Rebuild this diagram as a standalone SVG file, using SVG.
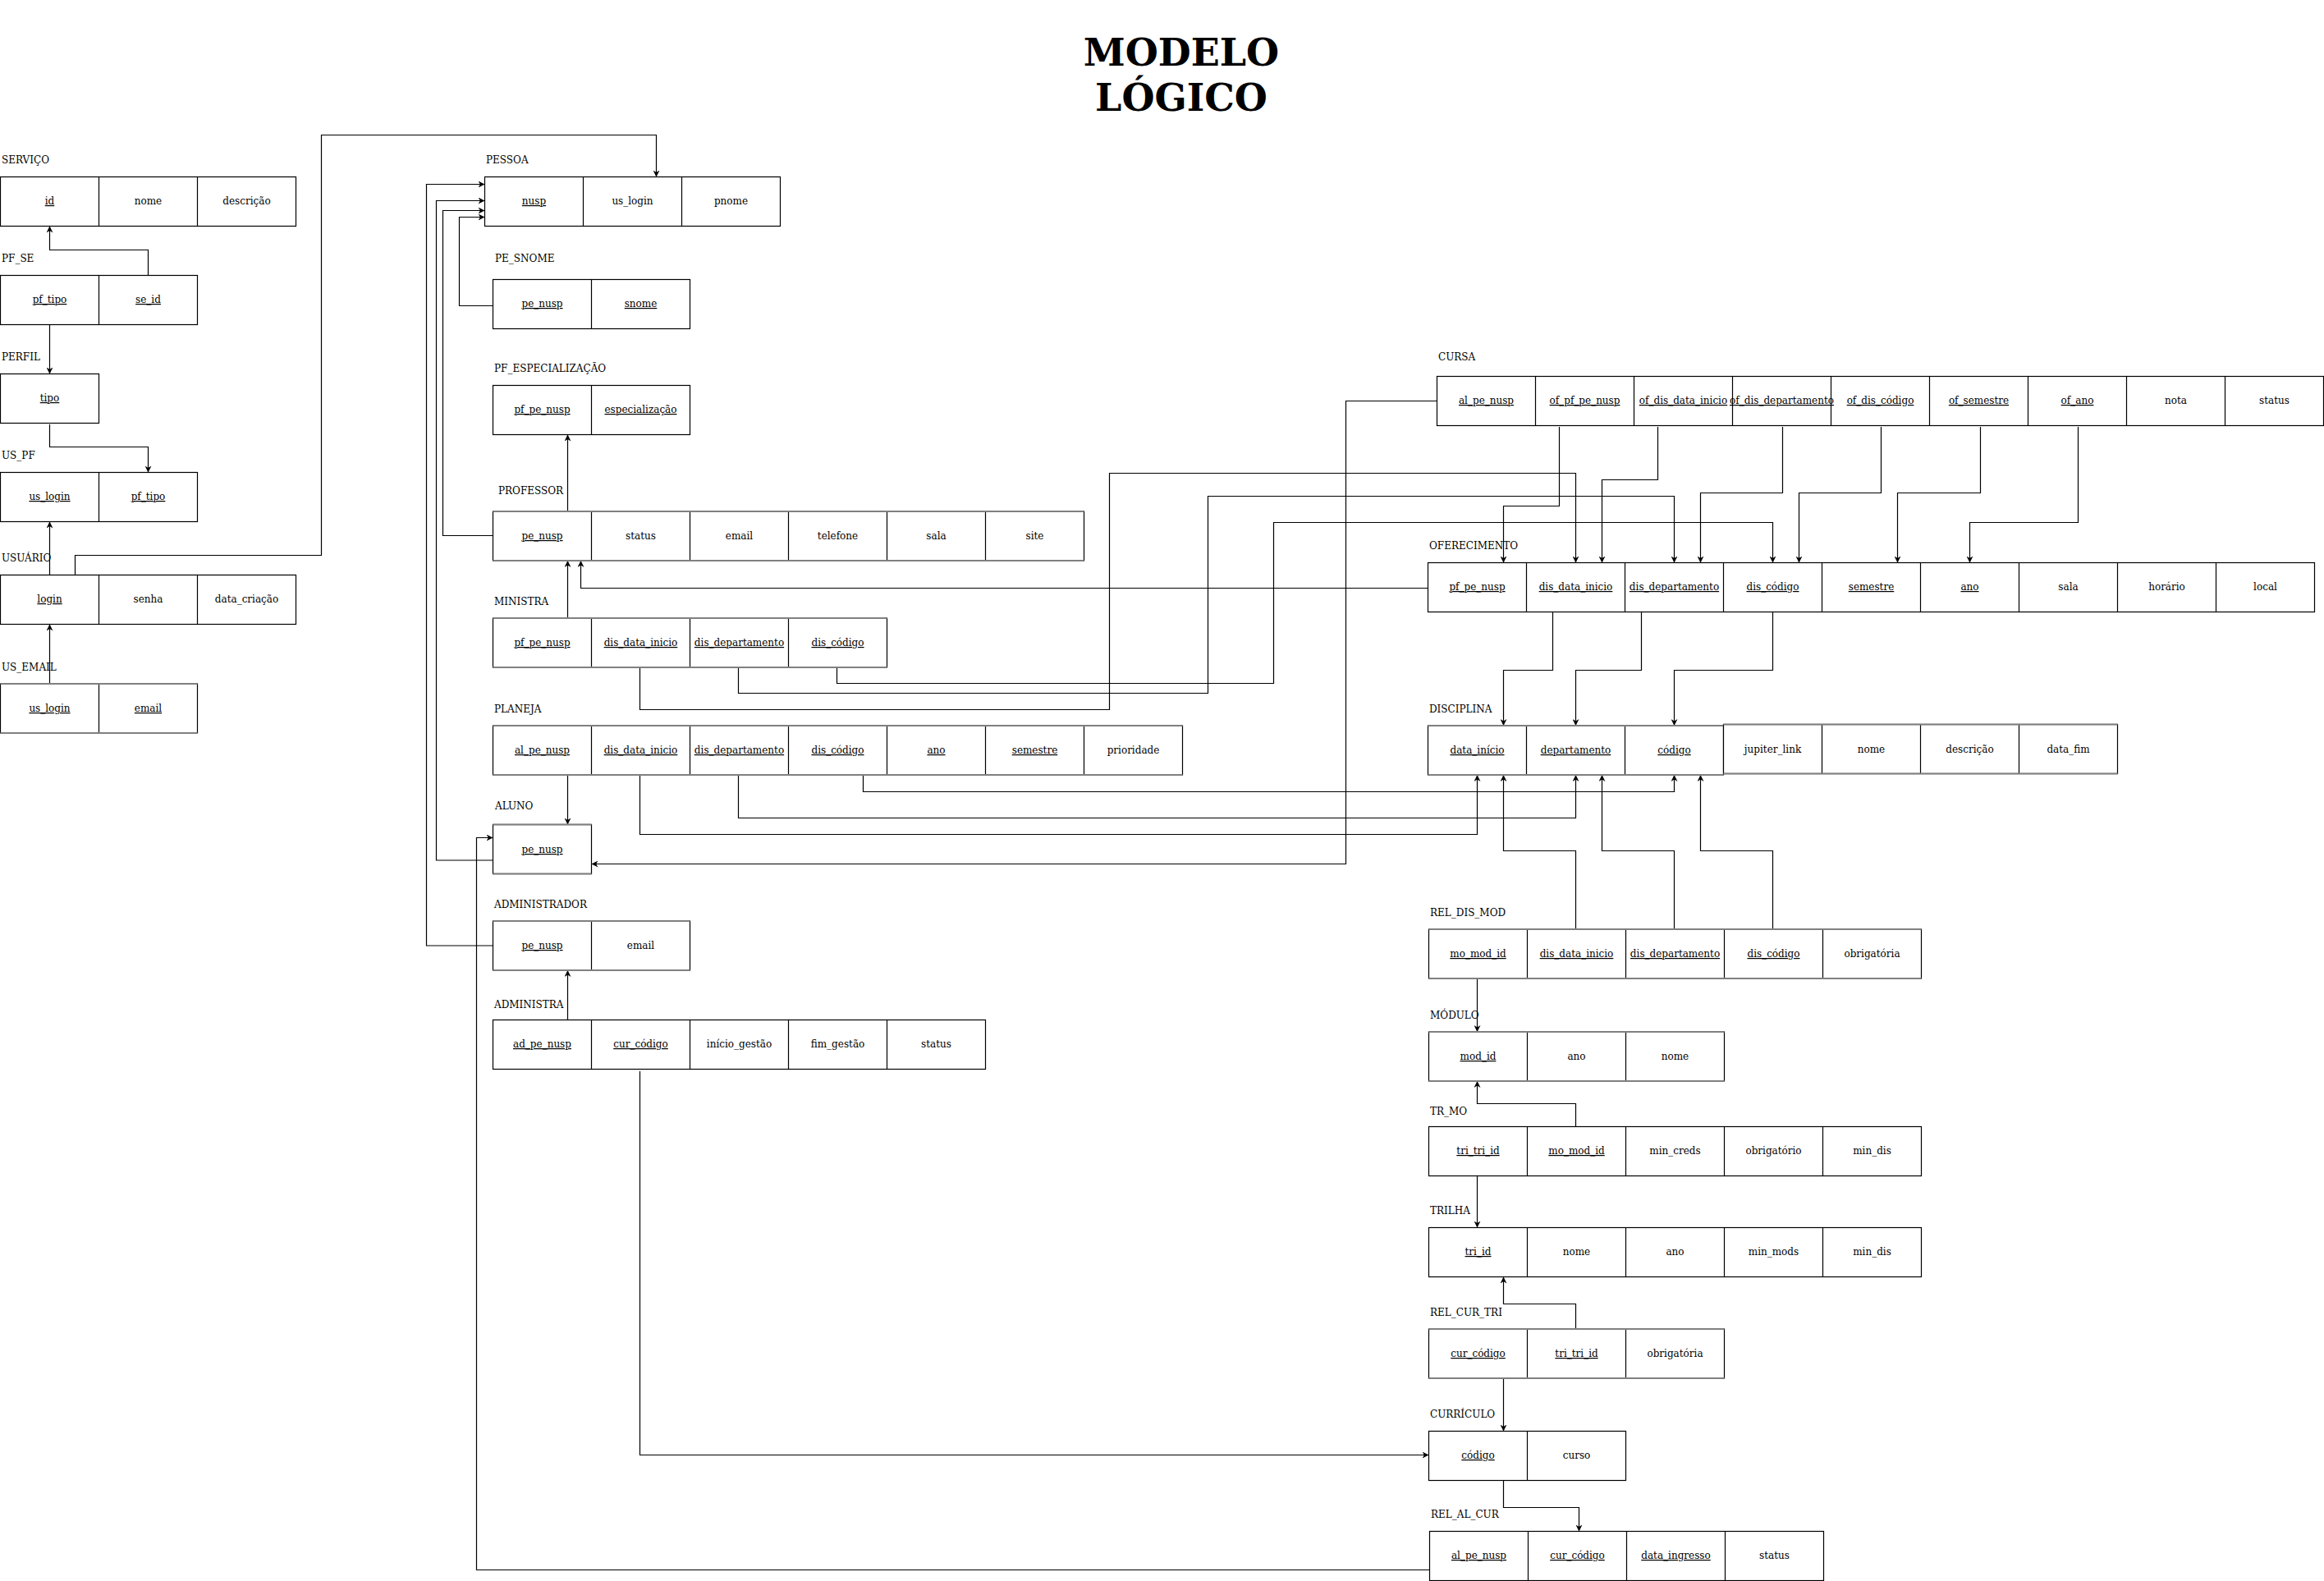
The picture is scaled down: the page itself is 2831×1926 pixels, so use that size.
<svg xmlns="http://www.w3.org/2000/svg" width="2831" height="1926" viewBox="0 0 2831 1926">
<style>
.b{fill:#fff;stroke:#000;stroke-width:1.2}
.d{stroke:#000;stroke-width:1.2}
.g{stroke:#808080;stroke-width:2.2}
.t{font-family:"DejaVu Serif",serif;font-size:12px;text-anchor:middle;fill:#000}
.u{text-decoration:underline}
.l{font-family:"DejaVu Serif",serif;font-size:12px;fill:#000}
.c{fill:none;stroke:#000;stroke-width:1.2}
.h{font-family:"DejaVu Serif",serif;font-size:46px;font-weight:bold;text-anchor:middle;fill:#000}
</style>
<defs>
<marker id="a" viewBox="0 0 10 10" refX="10" refY="5" markerWidth="8" markerHeight="8" markerUnits="userSpaceOnUse" orient="auto">
<path d="M0,0 L10,5 L0,10 L3,5 z" fill="#000"/>
</marker>
</defs>
<rect width="2831" height="1926" fill="#fff"/>
<g id="title">
<text class="h" x="1439" y="80">MODELO</text>
<text class="h" x="1439" y="135">LÓGICO</text>
</g>

<g id="connectors" class="c" marker-end="url(#a)">
<path d="M180.5,335.5 V304.5 H60.5 V275.5"/>
<path d="M60.5,395.5 V455.5"/>
<path d="M60.5,517 V544.5 H180.5 V575.5"/>
<path d="M60.5,700.5 V635.5"/>
<path d="M60.5,833 V760.5"/>
<path d="M91.5,700.5 V676.5 H391.5 V164.5 H799.5 V215.5"/>
<path d="M600.5,1152 H519.5 V224.5 H590.5"/>
<path d="M600.5,1048 H531.5 V244.5 H590.5"/>
<path d="M600.5,652.5 H539.5 V256.5 H590.5"/>
<path d="M600.5,372.5 H559.5 V264.5 H590.5"/>
<path d="M691.5,623 V529.5"/>
<path d="M691.5,753 V683"/>
<path d="M1739.5,716.5 H707.5 V683"/>
<path d="M779.5,813 V864.5 H1351.5 V576.5 H1919.5 V685.5"/>
<path d="M899.5,813 V844.5 H1471.5 V604.5 H2039.5 V685.5"/>
<path d="M1019.5,813 V832.5 H1551.5 V636.5 H2159.5 V685.5"/>
<path d="M691.5,944 V1004.5"/>
<path d="M1051.5,944 V964.5 H2039.5 V944"/>
<path d="M899.5,944 V996.5 H1919.5 V944"/>
<path d="M779.5,944 V1016.5 H1799.5 V944"/>
<path d="M1750.5,488.5 H1639.5 V1052.5 H720.5"/>
<path d="M1899.5,520 V616.5 H1831.5 V685.5"/>
<path d="M2019.5,520 V584.5 H1951.5 V685.5"/>
<path d="M2171.5,520 V600.5 H2071.5 V685.5"/>
<path d="M2291.5,520 V600.5 H2191.5 V685.5"/>
<path d="M2412.5,520 V600.5 H2311.5 V685.5"/>
<path d="M2531.5,520 V636.5 H2399.5 V685.5"/>
<path d="M1891.5,745.5 V816.5 H1831.5 V884"/>
<path d="M1999.5,745.5 V816.5 H1919.5 V884"/>
<path d="M2159.5,745.5 V816.5 H2039.5 V884"/>
<path d="M1919.5,1132 V1036.5 H1831.5 V944"/>
<path d="M2039.5,1132 V1036.5 H1951.5 V944"/>
<path d="M2159.5,1132 V1036.5 H2071.5 V944"/>
<path d="M1799.5,1192 V1257"/>
<path d="M1919.5,1372.5 V1344.5 H1799.5 V1317"/>
<path d="M1799.5,1432.5 V1495.5"/>
<path d="M1919.5,1619 V1588.5 H1831.5 V1555.5"/>
<path d="M1831.5,1679 V1743.5"/>
<path d="M1831.5,1803.5 V1836.5 H1923.5 V1865.5"/>
<path d="M779.5,1305 V1772.5 H1740.5"/>
<path d="M1741.5,1912.5 H580.5 V1020.5 H600.5"/>
<path d="M691.5,1242.5 V1182"/>
</g>

<g id="servico">
<text class="l" x="2" y="199">SERVIÇO</text>
<rect class="b" x="0.5" y="215.5" width="360" height="60"/>
<path class="d" d="M120.5,215.5 V275.5 M240.5,215.5 V275.5"/>
<text class="t u" x="60.5" y="249">id</text><text class="t" x="180.5" y="249">nome</text><text class="t" x="300.5" y="249">descrição</text>
</g>
<g id="pf_se">
<text class="l" x="2" y="319">PF_SE</text>
<rect class="b" x="0.5" y="335.5" width="240" height="60"/>
<path class="d" d="M120.5,335.5 V395.5"/>
<text class="t u" x="60.5" y="369">pf_tipo</text><text class="t u" x="180.5" y="369">se_id</text>
</g>
<g id="perfil">
<text class="l" x="2" y="439">PERFIL</text>
<rect class="b" x="0.5" y="455.5" width="120" height="60"/>
<text class="t u" x="60.5" y="489">tipo</text>
</g>
<g id="us_pf">
<text class="l" x="2" y="559">US_PF</text>
<rect class="b" x="0.5" y="575.5" width="240" height="60"/>
<path class="d" d="M120.5,575.5 V635.5"/>
<text class="t u" x="60.5" y="609">us_login</text><text class="t u" x="180.5" y="609">pf_tipo</text>
</g>
<g id="usuario">
<text class="l" x="2" y="684">USUÁRIO</text>
<rect class="b" x="0.5" y="700.5" width="360" height="60"/>
<path class="d" d="M120.5,700.5 V760.5 M240.5,700.5 V760.5"/>
<text class="t u" x="60.5" y="734">login</text><text class="t" x="180.5" y="734">senha</text><text class="t" x="300.5" y="734">data_criação</text>
</g>
<g id="us_email">
<text class="l" x="2" y="817">US_EMAIL</text>
<rect class="b" x="0.5" y="833" width="240" height="60"/>
<path class="d" d="M120.5,833 V893"/>
<path class="g" d="M0.5,833 H240.5 M0.5,893 H240.5"/>
<text class="t u" x="60.5" y="867">us_login</text><text class="t u" x="180.5" y="867">email</text>
</g>

<g id="pessoa">
<text class="l" x="592" y="199">PESSOA</text>
<rect class="b" x="590.5" y="215.5" width="360" height="60"/>
<path class="d" d="M710.5,215.5 V275.5 M830.5,215.5 V275.5"/>
<text class="t u" x="650.5" y="249">nusp</text><text class="t" x="770.5" y="249">us_login</text><text class="t" x="890.5" y="249">pnome</text>
</g>
<g id="pe_snome">
<text class="l" x="603" y="319">PE_SNOME</text>
<rect class="b" x="600.5" y="340.5" width="240" height="60"/>
<path class="d" d="M720.5,340.5 V400.5"/>
<text class="t u" x="660.5" y="374">pe_nusp</text><text class="t u" x="780.5" y="374">snome</text>
</g>
<g id="pf_especializacao">
<text class="l" x="602" y="453">PF_ESPECIALIZAÇÃO</text>
<rect class="b" x="600.5" y="469.5" width="240" height="60"/>
<path class="d" d="M720.5,469.5 V529.5"/>
<text class="t u" x="660.5" y="503">pf_pe_nusp</text><text class="t u" x="780.5" y="503">especialização</text>
</g>
<g id="professor">
<text class="l" x="607" y="602">PROFESSOR</text>
<rect class="b" x="600.5" y="623" width="720" height="60"/>
<path class="d" d="M720.5,623 V683 M840.5,623 V683 M960.5,623 V683 M1080.5,623 V683 M1200.5,623 V683"/>
<path class="g" d="M600.5,623 H1320.5 M600.5,683 H1320.5"/>
<text class="t u" x="660.5" y="657">pe_nusp</text><text class="t" x="780.5" y="657">status</text><text class="t" x="900.5" y="657">email</text><text class="t" x="1020.5" y="657">telefone</text><text class="t" x="1140.5" y="657">sala</text><text class="t" x="1260.5" y="657">site</text>
</g>
<g id="ministra">
<text class="l" x="602" y="737">MINISTRA</text>
<rect class="b" x="600.5" y="753" width="480" height="60"/>
<path class="d" d="M720.5,753 V813 M840.5,753 V813 M960.5,753 V813"/>
<path class="g" d="M600.5,753 H1080.5 M600.5,813 H1080.5"/>
<text class="t u" x="660.5" y="787">pf_pe_nusp</text><text class="t u" x="780.5" y="787">dis_data_inicio</text><text class="t u" x="900.5" y="787">dis_departamento</text><text class="t u" x="1020.5" y="787">dis_código</text>
</g>
<g id="planeja">
<text class="l" x="602" y="868">PLANEJA</text>
<rect class="b" x="600.5" y="884" width="840" height="60"/>
<path class="d" d="M720.5,884 V944 M840.5,884 V944 M960.5,884 V944 M1080.5,884 V944 M1200.5,884 V944 M1320.5,884 V944"/>
<path class="g" d="M600.5,884 H1440.5 M600.5,944 H1440.5"/>
<text class="t u" x="660.5" y="918">al_pe_nusp</text><text class="t u" x="780.5" y="918">dis_data_inicio</text><text class="t u" x="900.5" y="918">dis_departamento</text><text class="t u" x="1020.5" y="918">dis_código</text><text class="t u" x="1140.5" y="918">ano</text><text class="t u" x="1260.5" y="918">semestre</text><text class="t" x="1380.5" y="918">prioridade</text>
</g>
<g id="aluno">
<text class="l" x="603" y="986">ALUNO</text>
<rect class="b" x="600.5" y="1004.5" width="120" height="60"/>
<path class="g" d="M600.5,1004.5 H720.5 M600.5,1064.5 H720.5"/>
<text class="t u" x="660.5" y="1039">pe_nusp</text>
</g>
<g id="administrador">
<text class="l" x="602" y="1106">ADMINISTRADOR</text>
<rect class="b" x="600.5" y="1122" width="240" height="60"/>
<path class="d" d="M720.5,1122 V1182"/>
<path class="g" d="M600.5,1122 H840.5 M600.5,1182 H840.5"/>
<text class="t u" x="660.5" y="1156">pe_nusp</text><text class="t" x="780.5" y="1156">email</text>
</g>
<g id="administra">
<text class="l" x="602" y="1228">ADMINISTRA</text>
<rect class="b" x="600.5" y="1242.5" width="600" height="60"/>
<path class="d" d="M720.5,1242.5 V1302.5 M840.5,1242.5 V1302.5 M960.5,1242.5 V1302.5 M1080.5,1242.5 V1302.5"/>
<text class="t u" x="660.5" y="1276">ad_pe_nusp</text><text class="t u" x="780.5" y="1276">cur_código</text><text class="t" x="900.5" y="1276">início_gestão</text><text class="t" x="1020.5" y="1276">fim_gestão</text><text class="t" x="1140.5" y="1276">status</text>
</g>

<g id="cursa">
<text class="l" x="1752" y="439">CURSA</text>
<rect class="b" x="1750.5" y="458.5" width="1080" height="60"/>
<path class="d" d="M1870.5,458.5 V518.5 M1990.5,458.5 V518.5 M2110.5,458.5 V518.5 M2230.5,458.5 V518.5 M2350.5,458.5 V518.5 M2470.5,458.5 V518.5 M2590.5,458.5 V518.5 M2710.5,458.5 V518.5"/>
<text class="t u" x="1810.5" y="492">al_pe_nusp</text><text class="t u" x="1930.5" y="492">of_pf_pe_nusp</text><text class="t u" x="2050.5" y="492">of_dis_data_inicio</text><text class="t u" x="2170.5" y="492">of_dis_departamento</text><text class="t u" x="2290.5" y="492">of_dis_código</text><text class="t u" x="2410.5" y="492">of_semestre</text><text class="t u" x="2530.5" y="492">of_ano</text><text class="t" x="2650.5" y="492">nota</text><text class="t" x="2770.5" y="492">status</text>
</g>
<g id="oferecimento">
<text class="l" x="1741" y="669">OFERECIMENTO</text>
<rect class="b" x="1739.5" y="685.5" width="1080" height="60"/>
<path class="d" d="M1859.5,685.5 V745.5 M1979.5,685.5 V745.5 M2099.5,685.5 V745.5 M2219.5,685.5 V745.5 M2339.5,685.5 V745.5 M2459.5,685.5 V745.5 M2579.5,685.5 V745.5 M2699.5,685.5 V745.5"/>
<text class="t u" x="1799.5" y="719">pf_pe_nusp</text><text class="t u" x="1919.5" y="719">dis_data_inicio</text><text class="t u" x="2039.5" y="719">dis_departamento</text><text class="t u" x="2159.5" y="719">dis_código</text><text class="t u" x="2279.5" y="719">semestre</text><text class="t u" x="2399.5" y="719">ano</text><text class="t" x="2519.5" y="719">sala</text><text class="t" x="2639.5" y="719">horário</text><text class="t" x="2759.5" y="719">local</text>
</g>
<g id="disciplina">
<text class="l" x="1741" y="868">DISCIPLINA</text>
<rect class="b" x="1739.5" y="884" width="360" height="60"/>
<path class="d" d="M1859.5,884 V944 M1979.5,884 V944"/>
<path class="g" d="M1739.5,884 H2099.5 M1739.5,944 H2099.5"/>
<text class="t u" x="1799.5" y="918">data_início</text><text class="t u" x="1919.5" y="918">departamento</text><text class="t u" x="2039.5" y="918">código</text>
<rect class="b" x="2099.5" y="882.5" width="480" height="60"/>
<path class="d" d="M2219.5,882.5 V942.5 M2339.5,882.5 V942.5 M2459.5,882.5 V942.5"/>
<path class="g" d="M2099.5,882.5 H2579.5 M2099.5,942.5 H2579.5"/>
<text class="t" x="2159.5" y="917">jupiter_link</text><text class="t" x="2279.5" y="917">nome</text><text class="t" x="2399.5" y="917">descrição</text><text class="t" x="2519.5" y="917">data_fim</text>
</g>
<g id="rel_dis_mod">
<text class="l" x="1742" y="1116">REL_DIS_MOD</text>
<rect class="b" x="1740.5" y="1132" width="600" height="60"/>
<path class="d" d="M1860.5,1132 V1192 M1980.5,1132 V1192 M2100.5,1132 V1192 M2220.5,1132 V1192"/>
<path class="g" d="M1740.5,1132 H2340.5 M1740.5,1192 H2340.5"/>
<text class="t u" x="1800.5" y="1166">mo_mod_id</text><text class="t u" x="1920.5" y="1166">dis_data_inicio</text><text class="t u" x="2040.5" y="1166">dis_departamento</text><text class="t u" x="2160.5" y="1166">dis_código</text><text class="t" x="2280.5" y="1166">obrigatória</text>
</g>
<g id="modulo">
<text class="l" x="1742" y="1241">MÓDULO</text>
<rect class="b" x="1740.5" y="1257" width="360" height="60"/>
<path class="d" d="M1860.5,1257 V1317 M1980.5,1257 V1317"/>
<path class="g" d="M1740.5,1257 H2100.5 M1740.5,1317 H2100.5"/>
<text class="t u" x="1800.5" y="1291">mod_id</text><text class="t" x="1920.5" y="1291">ano</text><text class="t" x="2040.5" y="1291">nome</text>
</g>
<g id="tr_mo">
<text class="l" x="1742" y="1358">TR_MO</text>
<rect class="b" x="1740.5" y="1372.5" width="600" height="60"/>
<path class="d" d="M1860.5,1372.5 V1432.5 M1980.5,1372.5 V1432.5 M2100.5,1372.5 V1432.5 M2220.5,1372.5 V1432.5"/>
<text class="t u" x="1800.5" y="1406">tri_tri_id</text><text class="t u" x="1920.5" y="1406">mo_mod_id</text><text class="t" x="2040.5" y="1406">min_creds</text><text class="t" x="2160.5" y="1406">obrigatório</text><text class="t" x="2280.5" y="1406">min_dis</text>
</g>
<g id="trilha">
<text class="l" x="1742" y="1479">TRILHA</text>
<rect class="b" x="1740.5" y="1495.5" width="600" height="60"/>
<path class="d" d="M1860.5,1495.5 V1555.5 M1980.5,1495.5 V1555.5 M2100.5,1495.5 V1555.5 M2220.5,1495.5 V1555.5"/>
<text class="t u" x="1800.5" y="1529">tri_id</text><text class="t" x="1920.5" y="1529">nome</text><text class="t" x="2040.5" y="1529">ano</text><text class="t" x="2160.5" y="1529">min_mods</text><text class="t" x="2280.5" y="1529">min_dis</text>
</g>
<g id="rel_cur_tri">
<text class="l" x="1742" y="1603">REL_CUR_TRI</text>
<rect class="b" x="1740.5" y="1619" width="360" height="60"/>
<path class="d" d="M1860.5,1619 V1679 M1980.5,1619 V1679"/>
<path class="g" d="M1740.5,1619 H2100.5 M1740.5,1679 H2100.5"/>
<text class="t u" x="1800.5" y="1653">cur_código</text><text class="t u" x="1920.5" y="1653">tri_tri_id</text><text class="t" x="2040.5" y="1653">obrigatória</text>
</g>
<g id="curriculo">
<text class="l" x="1742" y="1727">CURRÍCULO</text>
<rect class="b" x="1740.5" y="1743.5" width="240" height="60"/>
<path class="d" d="M1860.5,1743.5 V1803.5"/>
<text class="t u" x="1800.5" y="1777">código</text><text class="t" x="1920.5" y="1777">curso</text>
</g>
<g id="rel_al_cur">
<text class="l" x="1743" y="1849">REL_AL_CUR</text>
<rect class="b" x="1741.5" y="1865.5" width="480" height="60"/>
<path class="d" d="M1861.5,1865.5 V1925.5 M1981.5,1865.5 V1925.5 M2101.5,1865.5 V1925.5"/>
<text class="t u" x="1801.5" y="1899">al_pe_nusp</text><text class="t u" x="1921.5" y="1899">cur_código</text><text class="t u" x="2041.5" y="1899">data_ingresso</text><text class="t" x="2161.5" y="1899">status</text>
</g>
</svg>
